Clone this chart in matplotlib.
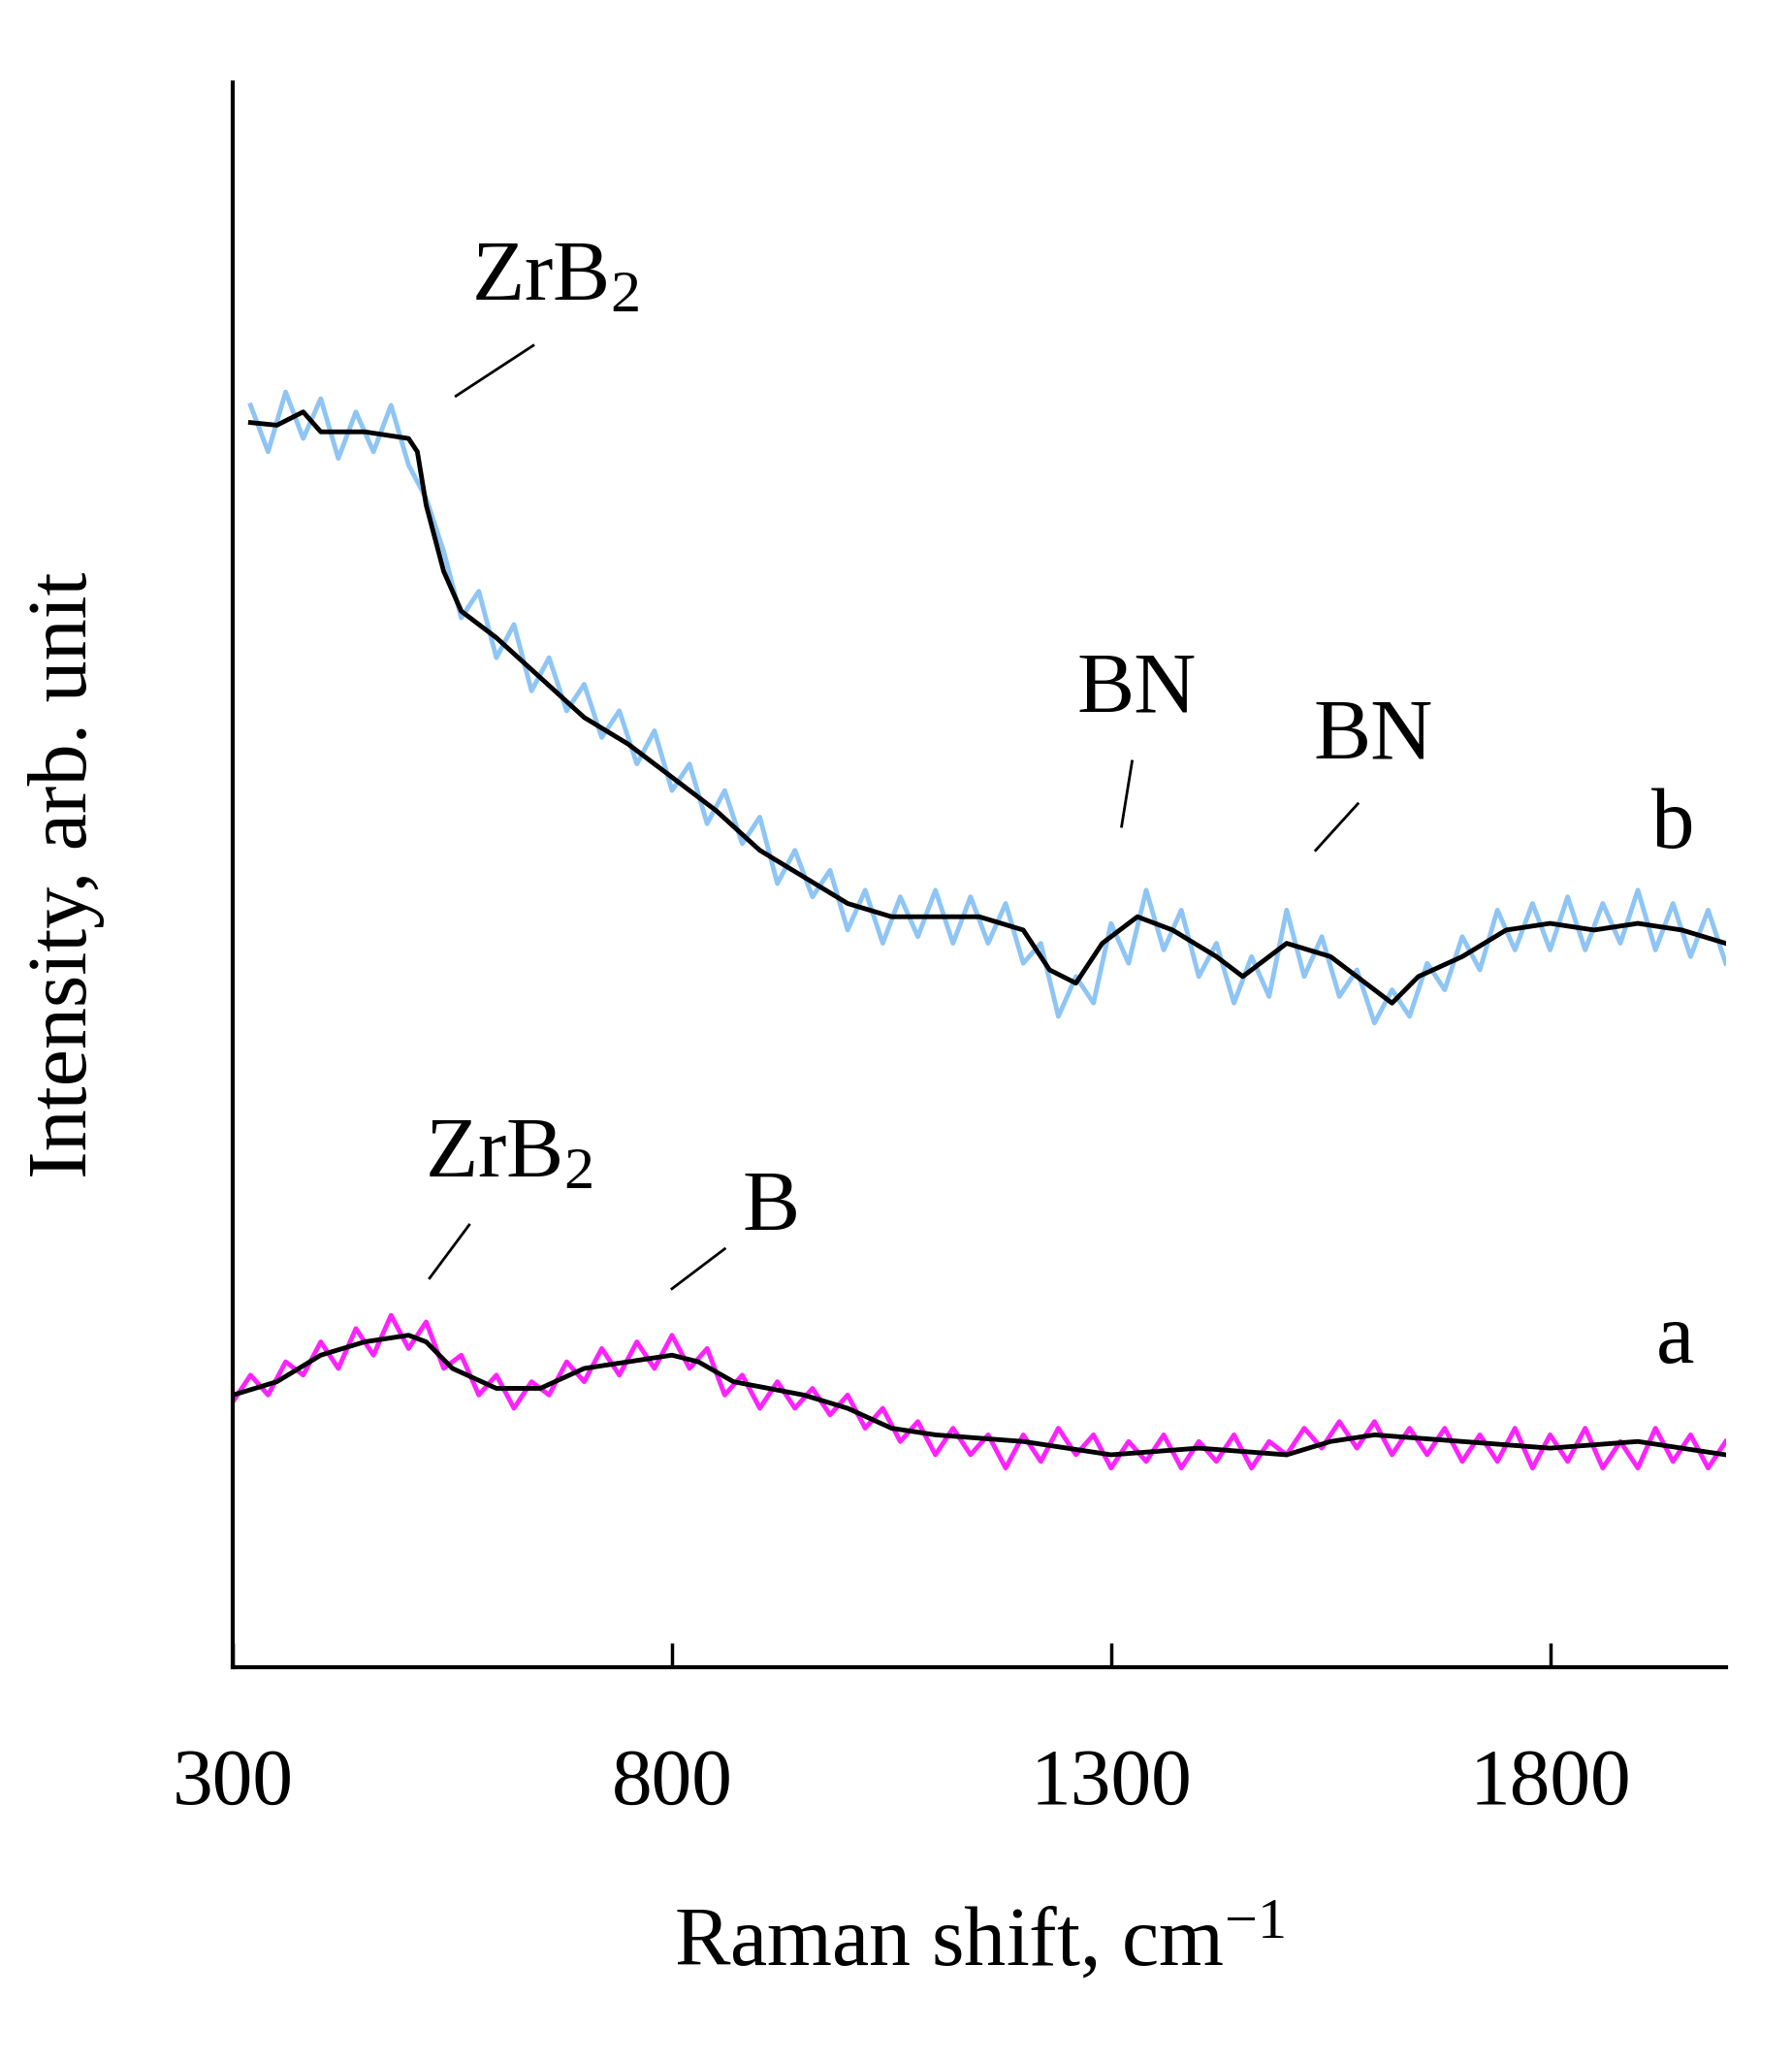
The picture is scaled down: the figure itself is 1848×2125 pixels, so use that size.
import numpy as np
import matplotlib.pyplot as plt

plt.rcParams["font.family"] = ["Liberation Serif", "DejaVu Serif"]
plt.rcParams["mathtext.fontset"] = "custom"
plt.rcParams["mathtext.rm"] = "Liberation Serif"
plt.rcParams["mathtext.it"] = "Liberation Serif:italic"

# curve b (upper): raw (light blue) and smoothed (black)
b_raw_x = np.arange(320, 2001, 20)
b_raw = [950, 915, 960, 925, 955, 910, 945, 915, 950, 905, 880, 840, 790, 810, 760,
         785, 735, 760, 720, 740, 700, 720, 680, 705, 660, 680, 635, 660, 620, 640,
         590, 615, 580, 600, 555, 585, 545, 580, 550, 585, 545, 580, 545, 575, 530,
         545, 490, 520, 500, 560, 530, 585, 540, 570, 520, 545, 500, 535, 505, 570,
         520, 550, 505, 525, 485, 510, 490, 530, 510, 550, 525, 570, 540, 575, 540,
         580, 540, 575, 545, 585, 540, 575, 535, 570, 530]
b_sm_x = [320, 350, 380, 400, 450, 500, 510, 520, 540, 560, 600, 650, 700, 750, 800,
          850, 900, 950, 1000, 1050, 1100, 1150, 1200, 1230, 1260, 1290, 1330, 1370,
          1420, 1450, 1500, 1550, 1600, 1620, 1650, 1700, 1750, 1800, 1850, 1900, 1950, 2000]
b_sm = [937, 935, 945, 930, 930, 925, 915, 875, 825, 795, 775, 745, 715, 695, 670,
        645, 615, 595, 575, 565, 565, 565, 555, 525, 515, 545, 565, 555,
        535, 520, 545, 535, 510, 500, 520, 535, 555, 560, 555, 560, 555, 545]

# curve a (lower): raw (magenta) and smoothed (black)
a_raw_x = np.arange(300, 2001, 20)
a_raw = [200, 220, 205, 230, 220, 245, 225, 255, 235, 265, 240, 260, 225, 235, 205,
         220, 195, 215, 205, 230, 215, 240, 220, 245, 225, 250, 225, 240, 205, 220,
         195, 215, 195, 210, 190, 205, 180, 195, 170, 185, 160, 180, 160, 175, 150,
         175, 155, 180, 160, 175, 150, 170, 155, 175, 150, 170, 155, 175, 150, 170,
         160, 180, 165, 185, 165, 185, 160, 180, 160, 180, 155, 175, 155, 180, 150,
         175, 155, 180, 150, 170, 150, 180, 155, 175, 150, 170]
a_sm_x = [300, 350, 400, 450, 500, 520, 550, 600, 650, 700, 750, 800, 830, 870, 950,
          1000, 1050, 1100, 1200, 1300, 1400, 1500, 1550, 1600, 1700, 1800, 1900, 2000]
a_sm = [205, 215, 235, 245, 250, 245, 225, 210, 210, 225, 230, 235, 230, 215, 205,
        195, 180, 175, 170, 160, 165, 160, 170, 175, 170, 165, 170, 160]

fig = plt.figure(figsize=(18.48, 21.25), dpi=100)
ax = fig.add_axes([0.13, 0.191, 0.833, 0.769])

ax.plot(b_raw_x, b_raw, color="#8ec5f5", lw=3.5)
ax.plot(b_sm_x, b_sm, color="black", lw=3.5)
ax.plot(a_raw_x, a_raw, color="#ff22ff", lw=3.5)
ax.plot(a_sm_x, a_sm, color="black", lw=3.5)

fs = 64
def note(text, tx, ty, lx0, ly0, lx1, ly1):
    ax.text(tx, ty, text, fontsize=fs, ha="center", va="center")
    ax.plot([lx0, lx1], [ly0, ly1], color="black", lw=2)

note("ZrB$_2$", 667, 1045, 554, 957, 642, 995)
note("BN", 1329, 735, 1312, 633, 1324, 682)
note("BN", 1599, 700, 1533, 615, 1581, 650)
note("ZrB$_2$", 614, 385, 524, 293, 569, 333)
note("B", 913, 345, 800, 285, 860, 315)
ax.text(1940, 633, "b", fontsize=fs, ha="center", va="center")
ax.text(1943, 245, "a", fontsize=fs, ha="center", va="center")

ax.set_xlim(300, 2000)
ax.set_ylim(0, 1193)
ax.set_xticks([300, 800, 1300, 1800])
ax.set_yticks([])
ax.tick_params(axis="x", direction="in", length=18, width=2.5, labelsize=60, pad=60)
for s in ["top", "right"]:
    ax.spines[s].set_visible(False)
for s in ["left", "bottom"]:
    ax.spines[s].set_linewidth(3)
ax.set_xlabel("Raman shift, cm$^{-1}$", fontsize=62, labelpad=60)
ax.set_ylabel("Intensity, arb. unit", fontsize=62, labelpad=95)

fig.savefig("out.png", dpi=100)
